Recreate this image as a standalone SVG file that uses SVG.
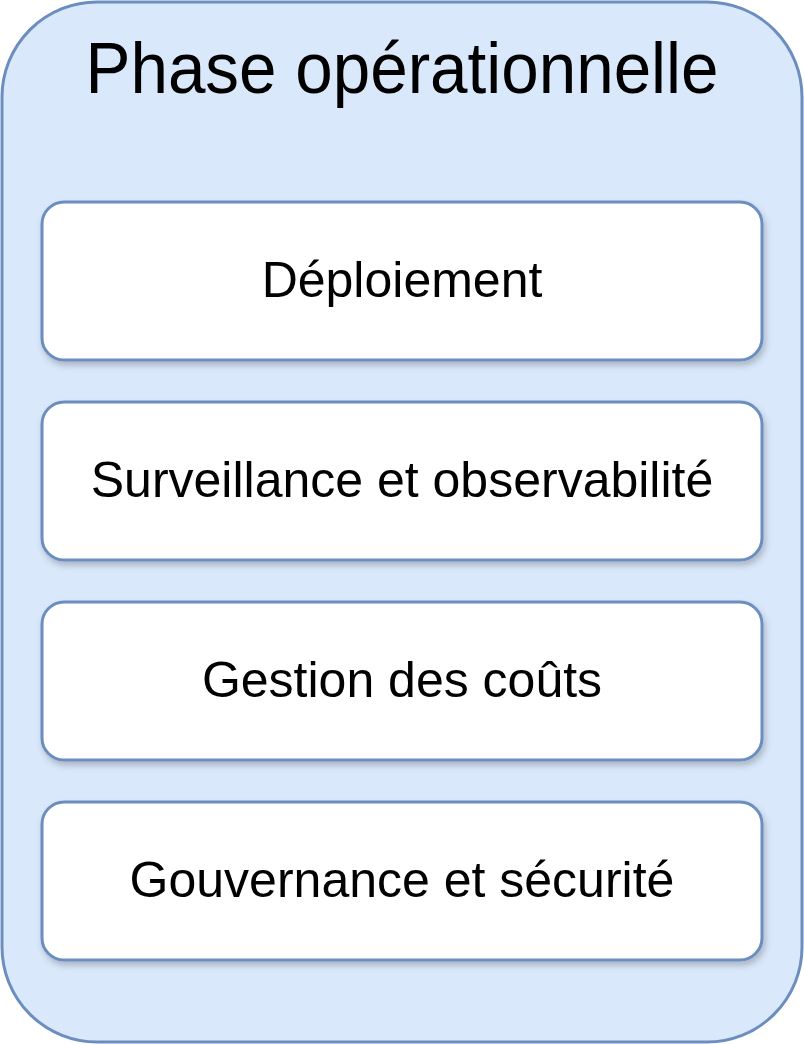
<svg xmlns="http://www.w3.org/2000/svg" width="804" height="1044" viewBox="0 0 804 1044">
  <defs>
    <filter id="sh" x="-5%" y="-10%" width="115%" height="130%">
      <feDropShadow dx="2" dy="4" stdDeviation="3" flood-color="#000" flood-opacity="0.22"/>
    </filter>
    <style>
      .outer { fill: #dae8fc; stroke: #6c8ebf; stroke-width: 3; }
      .box { fill: #ffffff; stroke: #6c8ebf; stroke-width: 3; filter: url(#sh); }
      .lbl { font-family: "Liberation Sans", Arial, sans-serif; font-size: 50px; fill: #000; text-anchor: middle; }
      .title { font-family: "Liberation Sans", Arial, sans-serif; font-size: 72px; fill: #000; text-anchor: middle; }
    </style>
  </defs>
  <g id="phase">
    <rect class="outer" x="2" y="2" width="800" height="1040" rx="95" ry="95"/>
    <text class="title" x="402" y="93" textLength="633" lengthAdjust="spacingAndGlyphs">Phase opérationnelle</text>
  </g>
  <g id="connectors"/>
  <g id="deploiement">
    <rect class="box" x="42" y="202" width="720" height="158" rx="22" ry="22"/>
    <text class="lbl" x="402" y="297">Déploiement</text>
  </g>
  <g id="surveillance">
    <rect class="box" x="42" y="402" width="720" height="158" rx="22" ry="22"/>
    <text class="lbl" x="402" y="497">Surveillance et observabilité</text>
  </g>
  <g id="couts">
    <rect class="box" x="42" y="602" width="720" height="158" rx="22" ry="22"/>
    <text class="lbl" x="402" y="697">Gestion des coûts</text>
  </g>
  <g id="gouvernance">
    <rect class="box" x="42" y="802" width="720" height="158" rx="22" ry="22"/>
    <text class="lbl" x="402" y="897">Gouvernance et sécurité</text>
  </g>
</svg>
